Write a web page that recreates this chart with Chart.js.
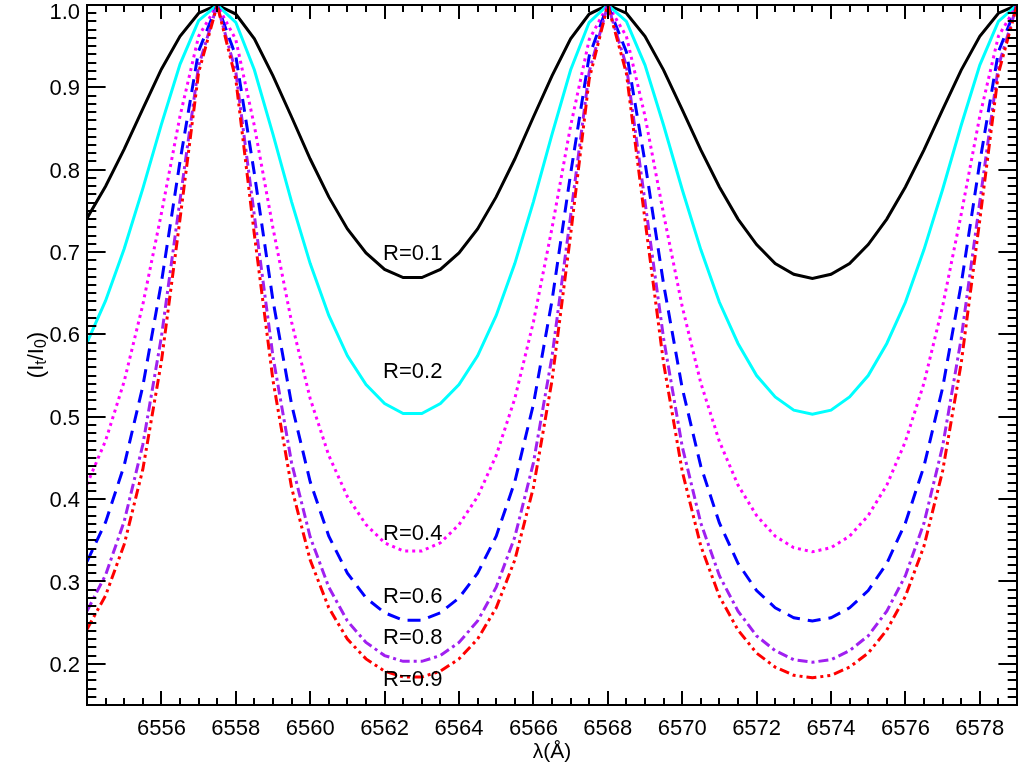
<!DOCTYPE html>
<html>
<head>
<meta charset="utf-8">
<script src="https://cdn.jsdelivr.net/npm/chart.js@4.4.1/dist/chart.umd.min.js"></script>
<style>
  html, body { margin: 0; padding: 0; background: #fff; }
  #c { display: block; }
</style>
</head>
<body>
<canvas id="c" width="1019" height="771"></canvas>
<script>
// wavelength grid (Å)
const wavelength = [
  6554.0, 6554.5, 6555.0, 6555.5, 6556.0, 6556.5, 6557.0, 6557.5, 6558.0, 6558.5,
  6559.0, 6559.5, 6560.0, 6560.5, 6561.0, 6561.5, 6562.0, 6562.5, 6563.0, 6563.5,
  6564.0, 6564.5, 6565.0, 6565.5, 6566.0, 6566.5, 6567.0, 6567.5, 6568.0, 6568.5,
  6569.0, 6569.5, 6570.0, 6570.5, 6571.0, 6571.5, 6572.0, 6572.5, 6573.0, 6573.5,
  6574.0, 6574.5, 6575.0, 6575.5, 6576.0, 6576.5, 6577.0, 6577.5, 6578.0, 6578.5,
  6579.0
];

// transmitted intensity It/I0
const r01 = [
  0.741, 0.780, 0.825, 0.874, 0.922, 0.962, 0.990, 1.000,
  0.989, 0.959, 0.914, 0.864, 0.813, 0.767, 0.728, 0.699, 0.679, 0.669, 0.669, 0.679,
  0.699, 0.728, 0.767, 0.813, 0.864, 0.914, 0.959, 0.989, 1.000,
  0.990, 0.962, 0.921, 0.873, 0.824, 0.779, 0.740, 0.709, 0.686, 0.673, 0.668, 0.673,
  0.686, 0.709, 0.740, 0.779, 0.824, 0.873, 0.921, 0.962, 0.990, 1.000
];
const r02 = [
  0.590, 0.641, 0.704, 0.777, 0.855, 0.928, 0.981, 1.000,
  0.979, 0.921, 0.843, 0.761, 0.686, 0.623, 0.574, 0.539, 0.516, 0.504, 0.504, 0.516,
  0.539, 0.574, 0.623, 0.686, 0.761, 0.843, 0.921, 0.979, 1.000,
  0.980, 0.927, 0.854, 0.776, 0.703, 0.639, 0.589, 0.550, 0.524, 0.508, 0.503, 0.508,
  0.524, 0.550, 0.589, 0.639, 0.703, 0.776, 0.854, 0.927, 0.980, 1.000
];
const r04 = [
  0.418, 0.471, 0.543, 0.636, 0.747, 0.865, 0.962, 1.000,
  0.958, 0.853, 0.729, 0.615, 0.522, 0.453, 0.403, 0.369, 0.347, 0.337, 0.337, 0.347,
  0.369, 0.403, 0.453, 0.522, 0.615, 0.729, 0.853, 0.958, 1.000,
  0.962, 0.865, 0.746, 0.634, 0.541, 0.470, 0.417, 0.380, 0.355, 0.341, 0.336, 0.341,
  0.355, 0.380, 0.417, 0.470, 0.541, 0.634, 0.746, 0.865, 0.962, 1.000
];
const r06 = [
  0.324, 0.372, 0.441, 0.537, 0.663, 0.810, 0.944, 1.000,
  0.938, 0.795, 0.641, 0.515, 0.421, 0.355, 0.310, 0.280, 0.262, 0.253, 0.253, 0.262,
  0.280, 0.310, 0.355, 0.421, 0.515, 0.641, 0.795, 0.938, 1.000,
  0.943, 0.809, 0.661, 0.535, 0.440, 0.371, 0.322, 0.289, 0.268, 0.256, 0.252, 0.256,
  0.268, 0.289, 0.322, 0.371, 0.440, 0.535, 0.661, 0.809, 0.943, 1.000
];
const r08 = [
  0.264, 0.308, 0.373, 0.466, 0.597, 0.763, 0.926, 1.000,
  0.919, 0.744, 0.573, 0.444, 0.354, 0.293, 0.252, 0.226, 0.210, 0.203, 0.203, 0.210,
  0.226, 0.252, 0.293, 0.354, 0.444, 0.573, 0.744, 0.919, 1.000,
  0.926, 0.761, 0.595, 0.464, 0.371, 0.307, 0.264, 0.234, 0.216, 0.205, 0.202, 0.205,
  0.216, 0.234, 0.264, 0.307, 0.371, 0.464, 0.595, 0.761, 0.926, 1.000
];
const r09 = [
  0.242, 0.283, 0.345, 0.436, 0.567, 0.740, 0.918, 1.000,
  0.910, 0.721, 0.544, 0.414, 0.326, 0.268, 0.230, 0.206, 0.191, 0.184, 0.184, 0.191,
  0.206, 0.230, 0.268, 0.326, 0.414, 0.544, 0.721, 0.910, 1.000,
  0.917, 0.739, 0.565, 0.434, 0.343, 0.282, 0.241, 0.213, 0.196, 0.186, 0.183, 0.186,
  0.196, 0.213, 0.241, 0.282, 0.343, 0.434, 0.565, 0.739, 0.917, 1.000
];

const xTicks = [6556, 6558, 6560, 6562, 6564, 6566, 6568, 6570, 6572, 6574, 6576, 6578];
const yTicks = [0.2, 0.3, 0.4, 0.5, 0.6, 0.7, 0.8, 0.9, 1.0];

// curve labels and where they sit (data coords)
const curveLabels = ["R=0.1", "R=0.2", "R=0.4", "R=0.6", "R=0.8", "R=0.9"];
const labelX = [6561.96, 6561.96, 6561.96, 6561.96, 6561.96, 6561.96];
const labelY = [0.698, 0.554, 0.358, 0.281, 0.231, 0.181];

const FONT = "'Liberation Sans', Arial, Helvetica, sans-serif";

function series(vals, color, dash, order) {
  return {
    data: wavelength.map((x, i) => ({x: x, y: vals[i]})),
    borderColor: color,
    borderWidth: 3,
    borderDash: dash,
    pointRadius: 0,
    tension: 0,
    fill: false,
    order: order
  };
}

// IDL style frame: inward ticks on all four sides, labels, titles
const idlFrame = {
  id: "idlFrame",
  afterDatasetsDraw(chart) {
    const ctx = chart.ctx, a = chart.chartArea;
    const sx = chart.scales.x, sy = chart.scales.y;
    const w = a.right - a.left, h = a.bottom - a.top;
    const xMaj = 0.02 * h, yMaj = 0.02 * w;
    ctx.save();
    ctx.strokeStyle = "#000";
    ctx.lineWidth = 2;
    ctx.strokeRect(a.left, a.top, w, h);
    ctx.beginPath();
    // x ticks
    for (let v = 6554; v <= 6579.001; v += 0.5) {
      const px = Math.round(sx.getPixelForValue(v));
      const major = Math.abs(v / 2 - Math.round(v / 2)) < 1e-6;
      const len = major ? xMaj : xMaj / 2;
      ctx.moveTo(px, a.bottom); ctx.lineTo(px, a.bottom - len);
      ctx.moveTo(px, a.top); ctx.lineTo(px, a.top + len);
    }
    // y ticks
    for (let k = 15; k <= 100; k++) {
      const v = k / 100;
      const py = Math.round(sy.getPixelForValue(v));
      const len = (k % 10 === 0) ? yMaj : yMaj / 2;
      ctx.moveTo(a.left, py); ctx.lineTo(a.left + len, py);
      ctx.moveTo(a.right, py); ctx.lineTo(a.right - len, py);
    }
    ctx.stroke();

    ctx.fillStyle = "#000";
    // y tick labels (top one nudged down so it stays inside the page)
    ctx.font = "22px " + FONT;
    ctx.textAlign = "right";
    ctx.textBaseline = "middle";
    yTicks.forEach(v => {
      const py = Math.max(sy.getPixelForValue(v) + 2, 13);
      ctx.fillText(v.toFixed(1), a.left - 7, py);
    });

    // curve labels
    ctx.font = "22px " + FONT;
    ctx.textAlign = "left";
    curveLabels.forEach((t, i) => {
      ctx.fillText(t, sx.getPixelForValue(labelX[i]), sy.getPixelForValue(labelY[i]));
    });

    // x title
    ctx.font = "21px " + FONT;
    ctx.textAlign = "center";
    ctx.fillText("λ(Å)", (a.left + a.right) / 2, 752);

    // y title (It/I0) with subscripts, rotated
    ctx.translate(37, (a.top + a.bottom) / 2);
    ctx.rotate(-Math.PI / 2);
    const big = "22px " + FONT, small = "16px " + FONT;
    const parts = [["(I", big, 0], ["t", small, 5], ["/I", big, 0], ["0", small, 5], [")", big, 0]];
    let total = 0;
    parts.forEach(p => { ctx.font = p[1]; total += ctx.measureText(p[0]).width; });
    let cx = -total / 2;
    ctx.textAlign = "left";
    parts.forEach(p => {
      ctx.font = p[1];
      ctx.fillText(p[0], cx, p[2]);
      cx += ctx.measureText(p[0]).width;
    });
    ctx.restore();
  }
};

new Chart(document.getElementById("c"), {
  type: "line",
  data: {
    datasets: [
      series(r01, "#000000", [], 6),
      series(r02, "#00ffff", [], 5),
      series(r04, "#ff00ff", [3, 4], 4),
      series(r06, "#0000ff", [13, 8], 3),
      series(r08, "#a020f0", [10, 4, 3, 4], 2),
      series(r09, "#ff0000", [10, 4, 3, 4, 3, 4], 1)
    ]
  },
  options: {
    responsive: false,
    devicePixelRatio: 1,
    animation: false,
    layout: { padding: { left: 0, right: 2, top: 5, bottom: 0 } },
    plugins: { legend: { display: false }, tooltip: { enabled: false } },
    scales: {
      x: {
        type: "linear",
        min: 6554, max: 6579,
        afterBuildTicks: s => { s.ticks = xTicks.map(v => ({value: v})); },
        afterFit: s => { s.height = 66; s.paddingLeft = 0; s.paddingRight = 0; },
        ticks: {
          autoSkip: false, maxRotation: 0, padding: 11, color: "#000",
          font: { family: FONT, size: 22 },
          callback: v => String(v)
        },
        grid: { display: false, drawTicks: false },
        border: { display: false }
      },
      y: {
        min: 0.15, max: 1.0,
        afterBuildTicks: s => { s.ticks = yTicks.map(v => ({value: v})); },
        afterFit: s => { s.width = 87; s.paddingTop = 0; s.paddingBottom = 0; },
        ticks: { display: false },
        grid: { display: false, drawTicks: false },
        border: { display: false }
      }
    }
  },
  plugins: [idlFrame]
});
</script>
</body>
</html>
